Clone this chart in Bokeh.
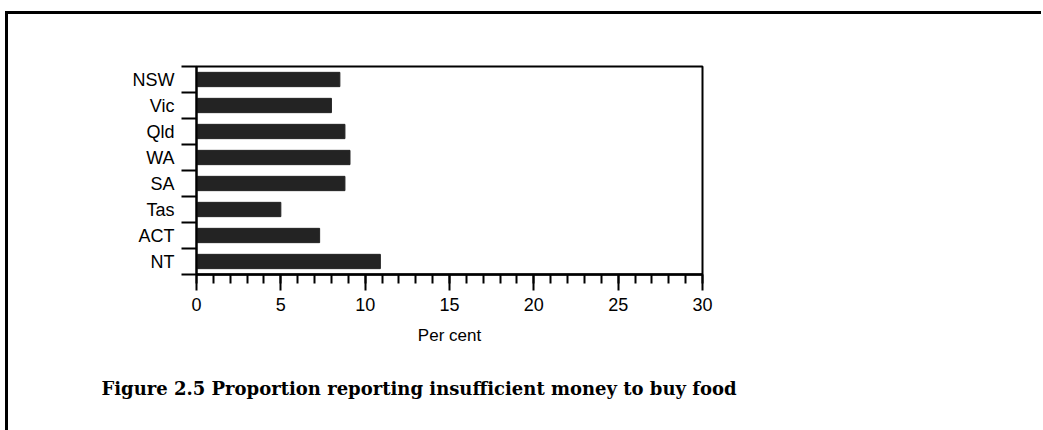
from bokeh.plotting import figure
from bokeh.models import Range1d, FixedTicker, Title, ColumnDataSource
from bokeh.embed import file_html
from bokeh.resources import INLINE

# ---- data ----
states = ["NSW", "Vic", "Qld", "WA", "SA", "Tas", "ACT", "NT"]
percent = [8.5, 8.0, 8.8, 9.1, 8.8, 5.0, 7.3, 10.9]
x_major_ticks = [0, 5, 10, 15, 20, 25, 30]
x_minor_ticks = list(range(0, 31))
x_label = "Per cent"
caption = "Figure 2.5 Proportion reporting insufficient money to buy food"

n = len(states)
pos = [n - i - 0.5 for i in range(n)]          # band centres, NSW on top
bounds = list(range(0, n + 1))                  # band boundaries
src = ColumnDataSource(dict(state=states, pct=percent, pos=pos))

W, H = 1041, 430
p = figure(width=W, height=H, output_backend="svg", toolbar_location=None,
           x_range=Range1d(0, 30), y_range=Range1d(0, n),
           min_border_left=196, min_border_right=W - 196 - 506,
           min_border_top=66, min_border_bottom=H - 66 - 217,
           background_fill_color="white", border_fill_alpha=0)

# page frame lines (top and left edges of the scanned page box)
p.styles = {
    "background": ("linear-gradient(#000,#000) 5px 11px / 3px 100% no-repeat, "
                   "linear-gradient(#000,#000) 5px 11px / 100% 3px no-repeat, #fff"),
}

p.hbar(y="pos", left=0, right="pct", height=0.55, source=src,
       fill_color="#232323", line_color="#232323", line_width=1)

p.xgrid.visible = False
p.ygrid.visible = False
p.outline_line_color = "black"
p.outline_line_width = 2
p.outline_line_alpha = 1

# x axis
xa = p.xaxis[0]
xa.ticker = FixedTicker(ticks=x_major_ticks, minor_ticks=x_minor_ticks)
xa.major_tick_out = 16
xa.major_tick_in = 0
xa.minor_tick_out = 9
xa.minor_tick_in = 0
xa.major_tick_line_width = 2
xa.minor_tick_line_width = 2
xa.axis_line_width = 2.5
xa.major_label_standoff = 7
xa.major_label_text_font = "Liberation Sans"
xa.major_label_text_font_size = "18px"
xa.major_label_text_color = "black"
xa.axis_label = x_label
xa.axis_label_text_font = "Liberation Sans"
xa.axis_label_text_font_size = "17px"
xa.axis_label_text_font_style = "normal"
xa.axis_label_standoff = 12
xa.axis_label_text_color = "black"

# y axis
ya = p.yaxis[0]
ya.ticker = FixedTicker(ticks=pos, minor_ticks=bounds)
ya.major_label_overrides = {float(v): s for v, s in zip(pos, states)}
ya.major_tick_out = 0
ya.major_tick_in = 0
ya.minor_tick_out = 15
ya.minor_tick_in = 0
ya.minor_tick_line_width = 2
ya.axis_line_width = 2
ya.major_label_standoff = 7
ya.major_label_text_font = "Liberation Sans"
ya.major_label_text_font_size = "18px"
ya.major_label_text_color = "black"

# caption below the chart
p.add_layout(Title(text=caption, align="left", offset=-95, standoff=60,
                   vertical_align="top",
                   text_font="DejaVu Serif", text_font_style="bold",
                   text_line_height=0.6,
                   text_font_size="18px", text_color="black"), "below")

open("out.html", "w").write(file_html(p, INLINE))
